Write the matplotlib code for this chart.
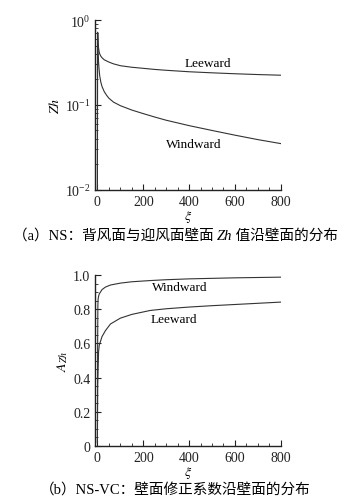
import matplotlib
matplotlib.use("Agg")
import matplotlib.pyplot as plt
from matplotlib.ticker import MultipleLocator, LogLocator, FixedLocator, FixedFormatter, NullFormatter, LogFormatterMathtext

plt.rcParams['font.family'] = ['Liberation Serif', 'Noto Sans CJK SC']
plt.rcParams['mathtext.fontset'] = 'stix'

# Panel (a): Zh along wall (log scale)
xi_a = [0, 0.5, 1, 2, 3, 5, 7, 10, 15, 20, 30, 40, 50, 70, 100, 150, 200, 250, 300, 400, 500, 600, 700, 800]
zh_leeward = [0.005, 0.5, 0.72, 0.62, 0.55, 0.47, 0.43, 0.40, 0.375, 0.36, 0.34, 0.33, 0.32, 0.305,
              0.29, 0.278, 0.27, 0.262, 0.256, 0.246, 0.239, 0.233, 0.228, 0.224]
zh_windward = [0.005, 0.5, 0.70, 0.52, 0.42, 0.32, 0.27, 0.22, 0.185, 0.165, 0.143, 0.13, 0.12, 0.108,
               0.098, 0.087, 0.079, 0.072, 0.066, 0.057, 0.050, 0.044, 0.039, 0.035]

# Panel (b): correction coefficient A_Zh
xi_b = [0, 1, 2, 3, 5, 8, 13, 20, 35, 57, 100, 150, 230, 300, 400, 500, 600, 700, 800]
a_windward = [0.02, 0.6, 0.82, 0.86, 0.875, 0.89, 0.90, 0.915, 0.93, 0.942, 0.953, 0.961, 0.968,
              0.973, 0.978, 0.981, 0.984, 0.986, 0.988]
a_leeward = [0.02, 0.35, 0.40, 0.45, 0.55, 0.59, 0.61, 0.64, 0.675, 0.714, 0.748, 0.770, 0.793,
             0.803, 0.813, 0.821, 0.828, 0.835, 0.842]

xticks = [0, 200, 400, 600, 800]
yticks_b = [0, 0.2, 0.4, 0.6, 0.8, 1.0]
yticklabels_b = ['0', '0.2', '0.4', '0.6', '0.8', '1.0']

lc = '#333333'
fig = plt.figure(figsize=(3.51, 5.02), dpi=100)
ax1 = fig.add_axes([0.271, 0.620, 0.529, 0.338])
ax2 = fig.add_axes([0.271, 0.1096, 0.529, 0.3404])

for ax in (ax1, ax2):
    for s in ('top', 'right'):
        ax.spines[s].set_visible(False)
    for s in ('left', 'bottom'):
        ax.spines[s].set_linewidth(1.0)
        ax.spines[s].set_color('#222222')
    ax.set_xlim(-10, 800)
    ax.xaxis.set_major_locator(FixedLocator(xticks))
    ax.xaxis.set_minor_locator(MultipleLocator(50))
    ax.tick_params(which='both', direction='in', labelsize=10, colors='#222222')
    ax.tick_params(which='major', length=4, width=0.8)
    ax.tick_params(which='minor', length=2, width=0.6)
    ax.set_xlabel(r'$\xi$', fontsize=10, labelpad=0)

ax1.set_yscale('log')
ax1.set_ylim(0.01, 1.0)
ax1.yaxis.set_major_locator(LogLocator(base=10, numticks=5))
ax1.yaxis.set_minor_locator(LogLocator(base=10, subs=range(2, 10), numticks=20))
ax1.yaxis.set_major_formatter(LogFormatterMathtext())
ax1.yaxis.set_minor_formatter(NullFormatter())
ax1.plot(xi_a, zh_leeward, color=lc, lw=0.8)
ax1.plot(xi_a, zh_windward, color=lc, lw=0.8)
ax1.text(483, 0.312, 'Leeward', fontsize=9.5, ha='center', va='center')
ax1.text(422, 0.0348, 'Windward', fontsize=9.5, ha='center', va='center')
ax1.set_ylabel(r'$Zh$', fontsize=10, labelpad=2)

ax2.set_ylim(0, 1.0)
ax2.yaxis.set_major_locator(FixedLocator(yticks_b))
ax2.yaxis.set_major_formatter(FixedFormatter(yticklabels_b))
ax2.yaxis.set_minor_locator(MultipleLocator(0.05))
ax2.plot(xi_b, a_windward, color=lc, lw=0.8)
ax2.plot(xi_b, a_leeward, color=lc, lw=0.8)
ax2.text(357, 0.931, 'Windward', fontsize=9.5, ha='center', va='center')
ax2.text(335, 0.744, 'Leeward', fontsize=9.5, ha='center', va='center')
ax2.set_ylabel(r'$A_{Zh}$', fontsize=10, labelpad=2)

# Captions: compose pieces so the italic Zh can sit inside CJK text
cap_fs = 10.5
renderer = fig.canvas.get_renderer()
pieces = [('（a）NS：背风面与迎风面壁面 ', 'normal'), ('Zh', 'italic'), (' 值沿壁面的分布', 'normal')]
ya = 1 - 236 / 502
texts = []
for s, st in pieces:
    t = fig.text(0, ya, s, ha='left', va='center', fontsize=cap_fs, style=st)
    texts.append(t)
widths = [t.get_window_extent(renderer).width for t in texts]
total = sum(widths)
x0 = (fig.bbox.width - total) / 2
for t, w in zip(texts, widths):
    t.set_x(x0 / fig.bbox.width)
    x0 += w

fig.text(0.5, 1 - 490 / 502, '（b）NS-VC：壁面修正系数沿壁面的分布',
         ha='center', va='center', fontsize=cap_fs)

fig.savefig('out.png', dpi=100)
